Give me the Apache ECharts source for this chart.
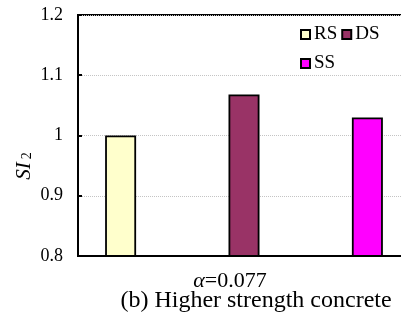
<!DOCTYPE html>
<html>
<head>
<meta charset="utf-8">
<script src="https://cdn.jsdelivr.net/npm/echarts@6/dist/echarts.min.js"></script>
<style>html,body{margin:0;padding:0;background:#fff}#c{width:401px;height:323px}</style>
</head>
<body>
<div id="c"></div>
<script>
var categories = ['α=0.077'];
var seriesNames = ['RS', 'DS', 'SS'];
var rsValues = [1.0];
var dsValues = [1.068];
var ssValues = [1.03];
var yTicks = [0.8, 0.9, 1.0, 1.1, 1.2];
var colors = ['#FFFFCC', '#993366', '#FF00FF'];

var serif = '"Liberation Serif", "Times New Roman", serif';
var chart = echarts.init(document.getElementById('c'));
var valuesList = [rsValues, dsValues, ssValues];
var series = seriesNames.map(function (n, i) {
  return {
    name: n,
    type: 'bar',
    data: valuesList[i],
    barWidth: 31,
    barGap: '298%',
    itemStyle: { color: colors[i], borderColor: '#000', borderWidth: 1.8 }
  };
});
chart.setOption({
  animation: false,
  grid: { left: 78, top: 15, width: 332, bottom: 67, outerBoundsMode: 'none', containLabel: false,
    show: true, borderColor: '#000', borderWidth: 2, backgroundColor: 'transparent' },
  xAxis: {
    type: 'category',
    data: categories,
    axisLine: { lineStyle: { color: '#000', width: 2 } },
    axisTick: { show: false },
    axisLabel: { show: false }
  },
  yAxis: {
    type: 'value',
    min: yTicks[0],
    max: yTicks[yTicks.length - 1],
    interval: 0.1,
    axisLine: { show: true, lineStyle: { color: '#000', width: 2 } },
    axisTick: { show: true, inside: true, length: 4, lineStyle: { color: '#000', width: 2 } },
    axisLabel: { color: '#000', fontFamily: serif, fontSize: 18, margin: 15,
      formatter: function (v) { return String(Math.round(v * 10) / 10); } },
    splitLine: { show: true, lineStyle: { color: '#c4c4c4', type: 'dotted', width: 1 } }
  },
  legend: [
    { data: ['RS', 'DS'], left: 300, top: 25, padding: 0, itemWidth: 9, itemHeight: 9, itemGap: 4, icon: 'rect',
      textStyle: { fontFamily: serif, fontSize: 19, color: '#000', padding: [0, 0, 0, -1] } },
    { data: ['SS'], left: 300, top: 54, padding: 0, itemWidth: 9, itemHeight: 9, itemGap: 4, icon: 'rect',
      textStyle: { fontFamily: serif, fontSize: 19, color: '#000', padding: [0, 0, 0, -1] } }
  ],
  graphic: [
    { type: 'rect', z: 1, shape: { x: 297, y: 17, width: 82, height: 58 }, style: { fill: '#fff' } },
    { type: 'text', x: 24, y: 166, rotation: Math.PI / 2,
      style: { text: '{i|SI}{s|2}', align: 'center', verticalAlign: 'middle',
        rich: { i: { fontFamily: serif, fontStyle: 'italic', fontSize: 21, fill: '#000' },
                s: { fontFamily: serif, fontSize: 14, fill: '#000', padding: [0, 0, -7, 3] } } } },
    { type: 'text', x: 230, y: 281,
      style: { text: '{a|α}{b|=0.077}', align: 'center', verticalAlign: 'middle',
        rich: { a: { fontFamily: serif, fontStyle: 'italic', fontSize: 22, fill: '#000' },
                b: { fontFamily: serif, fontSize: 22, fill: '#000' } } } },
    { type: 'text', x: 256, y: 301,
      style: { text: '(b) Higher strength concrete', align: 'center', verticalAlign: 'middle',
        fontFamily: serif, fontSize: 24, fill: '#000' } }
  ],
  series: series
});
</script>
</body>
</html>
